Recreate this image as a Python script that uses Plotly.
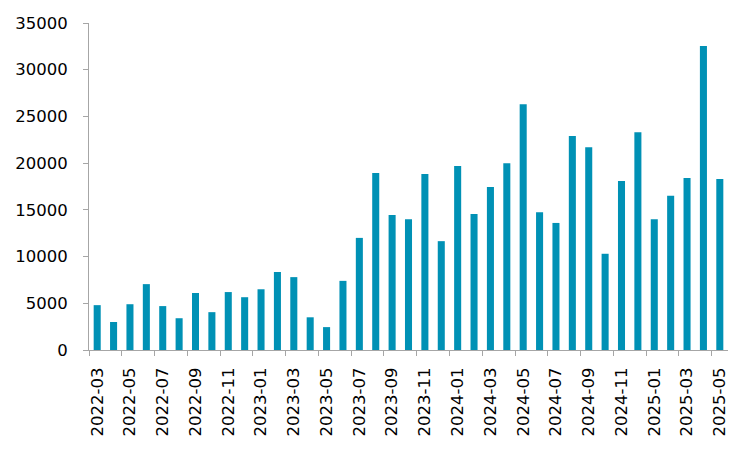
import plotly.graph_objects as go

months = [
    "2022-03", "2022-04", "2022-05", "2022-06", "2022-07", "2022-08", "2022-09", "2022-10",
    "2022-11", "2022-12", "2023-01", "2023-02", "2023-03", "2023-04", "2023-05", "2023-06",
    "2023-07", "2023-08", "2023-09", "2023-10", "2023-11", "2023-12", "2024-01", "2024-02",
    "2024-03", "2024-04", "2024-05", "2024-06", "2024-07", "2024-08", "2024-09", "2024-10",
    "2024-11", "2024-12", "2025-01", "2025-02", "2025-03", "2025-04", "2025-05",
]
values = [
    4800, 3000, 4900, 7050, 4700, 3400, 6100, 4050,
    6200, 5650, 6500, 8350, 7800, 3500, 2450, 7400,
    12000, 18950, 14450, 14000, 18850, 11650, 19700, 14550,
    17450, 20000, 26300, 14750, 13600, 22900, 21700, 10300,
    18100, 23300, 14000, 16500, 18400, 32550, 18300,
]
y_ticks = [0, 5000, 10000, 15000, 20000, 25000, 30000, 35000]

fig = go.Figure(
    go.Bar(x=months, y=values, marker=dict(color="#0091b5", line=dict(width=0)))
)
axis_color = "#a6a6a6"
fig.update_layout(
    width=735, height=435,
    margin=dict(l=81, r=15, t=15, b=93),
    paper_bgcolor="white", plot_bgcolor="white",
    bargap=0.57, showlegend=False,
    font=dict(family="DejaVu Sans", size=16.5, color="#000000"),
    xaxis=dict(
        type="category", tickmode="linear", tick0=0, dtick=2,
        tickson="boundaries", ticks="outside", ticklen=5, tickcolor=axis_color,
        showline=True, linecolor=axis_color, linewidth=1, ticklabelstandoff=10,
        tickangle=-90, showgrid=False, range=[-0.5, 38.5], automargin=False,
    ),
    yaxis=dict(
        range=[0, 35000], tickvals=y_ticks, ticktext=[str(v) for v in y_ticks],
        ticks="outside", ticklen=5, ticklabelstandoff=12,
        tickcolor=axis_color, showline=True, linecolor=axis_color, linewidth=1,
        showgrid=False, zeroline=False, automargin=False,
    ),
)
fig.write_html("out.html")
